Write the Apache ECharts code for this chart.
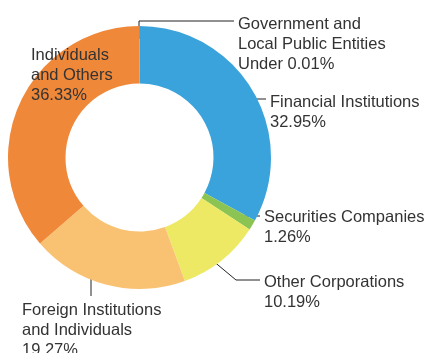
<!DOCTYPE html>
<html>
<head>
<meta charset="utf-8">
<script src="https://cdn.jsdelivr.net/npm/echarts@6/dist/echarts.min.js"></script>
<style>
  html, body { margin: 0; padding: 0; background: #ffffff; }
  #chart { width: 424px; height: 353px; }
</style>
</head>
<body>
<div id="chart"></div>
<script>
// Shareholder composition, clockwise from 12 o'clock
const categories = [
  'Financial Institutions',
  'Securities Companies',
  'Other Corporations',
  'Foreign Institutions and Individuals',
  'Individuals and Others',
  'Government and Local Public Entities'
];
const labelNames = [
  'Financial Institutions',
  'Securities Companies',
  'Other Corporations',
  'Foreign Institutions\nand Individuals',
  'Individuals\nand Others',
  'Government and\nLocal Public Entities'
];
const valuePrefixes = ['', '', '', '', '', 'Under '];
const shares = [32.95, 1.26, 10.19, 19.27, 36.33, 0.01];
const colors = ['#3ba3dc', '#8cc454', '#ede964', '#f8c272', '#f0883a', '#f0883a'];

// Label anchor (left, top) and leader line for each slice
const labelPlacement = [
  { x: 270, y: 92,  line: [[236, 99], [251, 99], [266, 99]] },
  { x: 264, y: 207, line: [[236, 216], [248, 216], [260, 216]] },
  { x: 264, y: 272, line: [[212, 260], [236, 280], [260, 280]] },
  { x: 22,  y: 300, line: [[91, 272], [91, 284], [91, 296]] },
  { x: 31,  y: 45,  line: null },
  { x: 238, y: 14,  line: [[139, 39], [139, 21], [234, 21]] }
];

const chart = echarts.init(document.getElementById('chart'), null, { renderer: 'canvas' });

chart.setOption({
  animation: false,
  series: [{
    type: 'pie',
    center: [139.5, 157.5],
    radius: [74, 131.5],
    startAngle: 90,
    clockwise: true,
    avoidLabelOverlap: false,
    data: categories.map((name, i) => ({
      name: name,
      value: shares[i],
      itemStyle: { color: colors[i] },
      labelLine: { show: labelPlacement[i].line !== null }
    })),
    label: {
      show: true,
      color: '#333333',
      fontFamily: 'Liberation Sans, Arial, sans-serif',
      fontSize: 16.5,
      lineHeight: 20,
      formatter: (p) => labelNames[p.dataIndex] + '\n' + valuePrefixes[p.dataIndex] + shares[p.dataIndex].toFixed(2) + '%'
    },
    labelLine: {
      show: true,
      lineStyle: { color: '#222222', width: 1 }
    },
    labelLayout: (params) => {
      const p = labelPlacement[params.dataIndex];
      const out = { x: p.x, y: p.y, align: 'left', verticalAlign: 'top' };
      if (p.line) out.labelLinePoints = p.line;
      return out;
    },
    emphasis: { disabled: true }
  }]
});
</script>
</body>
</html>
